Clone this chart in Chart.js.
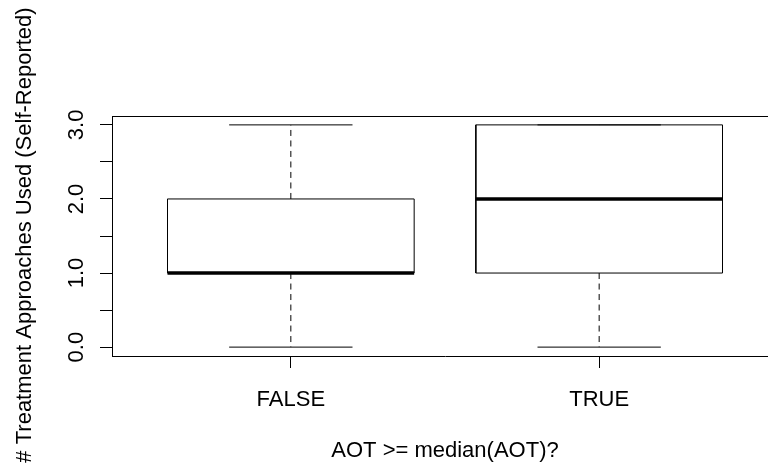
<!DOCTYPE html>
<html>
<head>
<meta charset="utf-8">
<script src="https://cdn.jsdelivr.net/npm/chart.js@4/dist/chart.umd.min.js"></script>
<style>
  html, body { margin: 0; padding: 0; background: #fff; overflow: hidden; width: 768px; height: 467px; }
  #wrap { position: relative; width: 778px; height: 467px; }
</style>
</head>
<body>
<div id="wrap"><canvas id="c" width="778" height="467"></canvas></div>
<script>
// ---- data ----
const categories = ['FALSE', 'TRUE'];
const mins    = [0, 0];
const q1s     = [1, 1];
const medians = [1, 2];
const q3s     = [2, 3];
const maxs    = [3, 3];
const yTicks  = [0, 0.5, 1, 1.5, 2, 2.5, 3];
const xTitle  = 'AOT >= median(AOT)?';
const yTitle  = '# Treatment Approaches Used (Self-Reported)';

const FONT = "'Liberation Sans', Arial, sans-serif";
const INK = '#000';
const HALF_BOX = 0.4, HALF_CAP = 0.2;

const datasets = [];
categories.forEach((cat, i) => {
  const x = i + 1;
  const base = { pointRadius: 0, borderColor: INK, fill: false, tension: 0, borderWidth: 1 };
  datasets.push({ ...base, label: cat + ' upper whisker', borderDash: [6, 4.5],
    data: [{x: x, y: q3s[i]}, {x: x, y: maxs[i]}] });
  datasets.push({ ...base, label: cat + ' lower whisker', borderDash: [6, 4.5],
    data: [{x: x, y: q1s[i]}, {x: x, y: mins[i]}] });
  datasets.push({ ...base, label: cat + ' upper cap',
    data: [{x: x - HALF_CAP, y: maxs[i]}, {x: x + HALF_CAP, y: maxs[i]}] });
  datasets.push({ ...base, label: cat + ' lower cap',
    data: [{x: x - HALF_CAP, y: mins[i]}, {x: x + HALF_CAP, y: mins[i]}] });
  datasets.push({ ...base, label: cat + ' box',
    data: [{x: x - HALF_BOX, y: q1s[i]}, {x: x + HALF_BOX, y: q1s[i]},
           {x: x + HALF_BOX, y: q3s[i]}, {x: x - HALF_BOX, y: q3s[i]},
           {x: x - HALF_BOX, y: q1s[i]}] });
  datasets.push({ ...base, label: cat + ' median', borderWidth: 3.5,
    data: [{x: x - HALF_BOX, y: medians[i]}, {x: x + HALF_BOX, y: medians[i]}] });
});

const framePlugin = {
  id: 'frame',
  afterDraw(chart) {
    const {ctx, chartArea: a} = chart;
    ctx.save();
    ctx.strokeStyle = INK;
    ctx.lineWidth = 1;
    ctx.beginPath();
    ctx.moveTo(a.left, a.top + 0.5);
    ctx.lineTo(a.right, a.top + 0.5);
    ctx.lineTo(a.right, a.bottom);
    ctx.stroke();
    // y axis title (drawn here so it is not squeezed to the axis height)
    ctx.fillStyle = INK;
    ctx.font = '22px ' + FONT;
    ctx.textAlign = 'center';
    ctx.textBaseline = 'middle';
    ctx.translate(25, (a.top + a.bottom) / 2 - 1);
    ctx.rotate(-Math.PI / 2);
    ctx.fillText(yTitle, 0, 0);
    ctx.restore();
  }
};

Chart.defaults.font.family = FONT;
Chart.defaults.font.size = 22;
Chart.defaults.color = INK;

new Chart(document.getElementById('c'), {
  type: 'line',
  data: { datasets },
  plugins: [framePlugin],
  options: {
    responsive: false,
    animation: false,
    events: [],
    layout: { padding: { top: 116, right: 0, bottom: 0, left: 0 } },
    plugins: { legend: { display: false }, tooltip: { enabled: false } },
    scales: {
      x: {
        type: 'linear',
        min: 0.42, max: 2.58,
        afterBuildTicks(s) { s.ticks = categories.map((c, i) => ({ value: i + 1 })); },
        afterFit(s) { s.height = 111; },
        ticks: {
          autoSkip: false, maxRotation: 0, minRotation: 0, padding: 19,
          color: INK, font: { size: 22 },
          callback: (v) => categories[Math.round(v) - 1]
        },
        grid: { drawOnChartArea: false, drawTicks: true, tickLength: 12, color: INK, tickWidth: 1 },
        border: { display: true, color: INK, width: 1 },
        title: { display: true, text: xTitle, color: INK, font: { size: 22 }, padding: { top: 0, bottom: 3 } }
      },
      y: {
        type: 'linear',
        min: -0.12, max: 3.12,
        afterBuildTicks(s) { s.ticks = yTicks.map(v => ({ value: v })); },
        afterFit(s) { s.width = 112; },
        ticks: {
          autoSkip: false, minRotation: 90, maxRotation: 90, crossAlign: 'center', padding: 8,
          color: INK, font: { size: 22 },
          callback: (v) => (Math.abs(v - Math.round(v)) < 1e-9 ? v.toFixed(1) : '')
        },
        grid: { drawOnChartArea: false, drawTicks: true, tickLength: 12, color: INK, tickWidth: 1 },
        border: { display: true, color: INK, width: 1 }
      }
    }
  }
});
</script>
</body>
</html>
